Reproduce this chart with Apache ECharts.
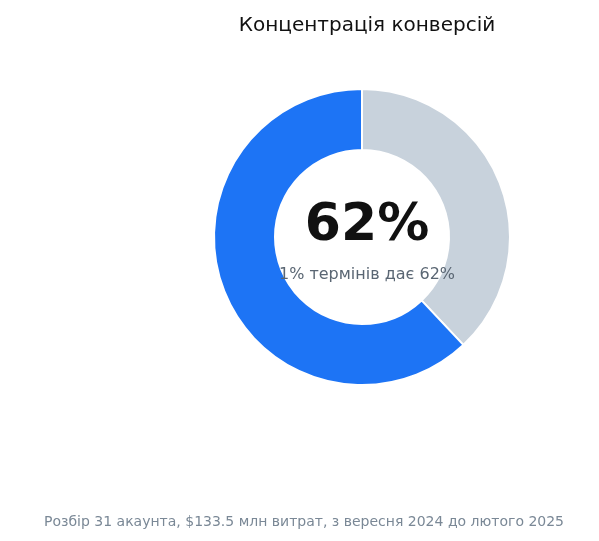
<!DOCTYPE html>
<html>
<head>
<meta charset="utf-8">
<script src="https://cdn.jsdelivr.net/npm/echarts@6/dist/echarts.min.js"></script>
<style>html,body{margin:0;padding:0;background:#fff}#main{width:599px;height:541px}</style>
</head>
<body>
<div id="main"></div>
<script>
// частки конверсій
var labels = ['Інші терміни', 'Топ 1% термінів'];
var values = [38, 62];
var colors = ['#c8d2dc', '#1d74f5'];

var chart = echarts.init(document.getElementById('main'));
var option = {
    backgroundColor: '#fff',
    textStyle: {fontFamily: 'DejaVu Sans'},
    title: [{
        text: 'Концентрація конверсій',
        left: 362, top: 11, textAlign: 'center',
        textStyle: {fontSize: 20, fontWeight: 'normal', color: '#111', fontFamily: 'DejaVu Sans'}
    }, {
        text: '62%',
        left: 362, top: 195, textAlign: 'center',
        textStyle: {fontSize: 52, fontWeight: 'bold', color: '#111', fontFamily: 'DejaVu Sans'}
    }, {
        text: '1% термінів дає 62%',
        left: 362, top: 262, textAlign: 'center',
        textStyle: {fontSize: 16, fontWeight: 'normal', color: '#5a6673', fontFamily: 'DejaVu Sans'}
    }, {
        text: 'Розбір 31 акаунта, $133.5 млн витрат, з вересня 2024 до лютого 2025',
        left: 299, top: 510, textAlign: 'center',
        textStyle: {fontSize: 14, fontWeight: 'normal', color: '#7a8896', fontFamily: 'DejaVu Sans'}
    }],
    series: [{
        type: 'pie',
        center: [362, 237],
        radius: [87, 148],
        startAngle: 90,
        clockwise: true,
        silent: true,
        label: {show: false},
        labelLine: {show: false},
        itemStyle: {borderColor: '#fff', borderWidth: 2},
        data: labels.map(function (n, i) {
            return {name: n, value: values[i], itemStyle: {color: colors[i]}};
        })
    }]
};
chart.setOption(option);
</script>
</body>
</html>
